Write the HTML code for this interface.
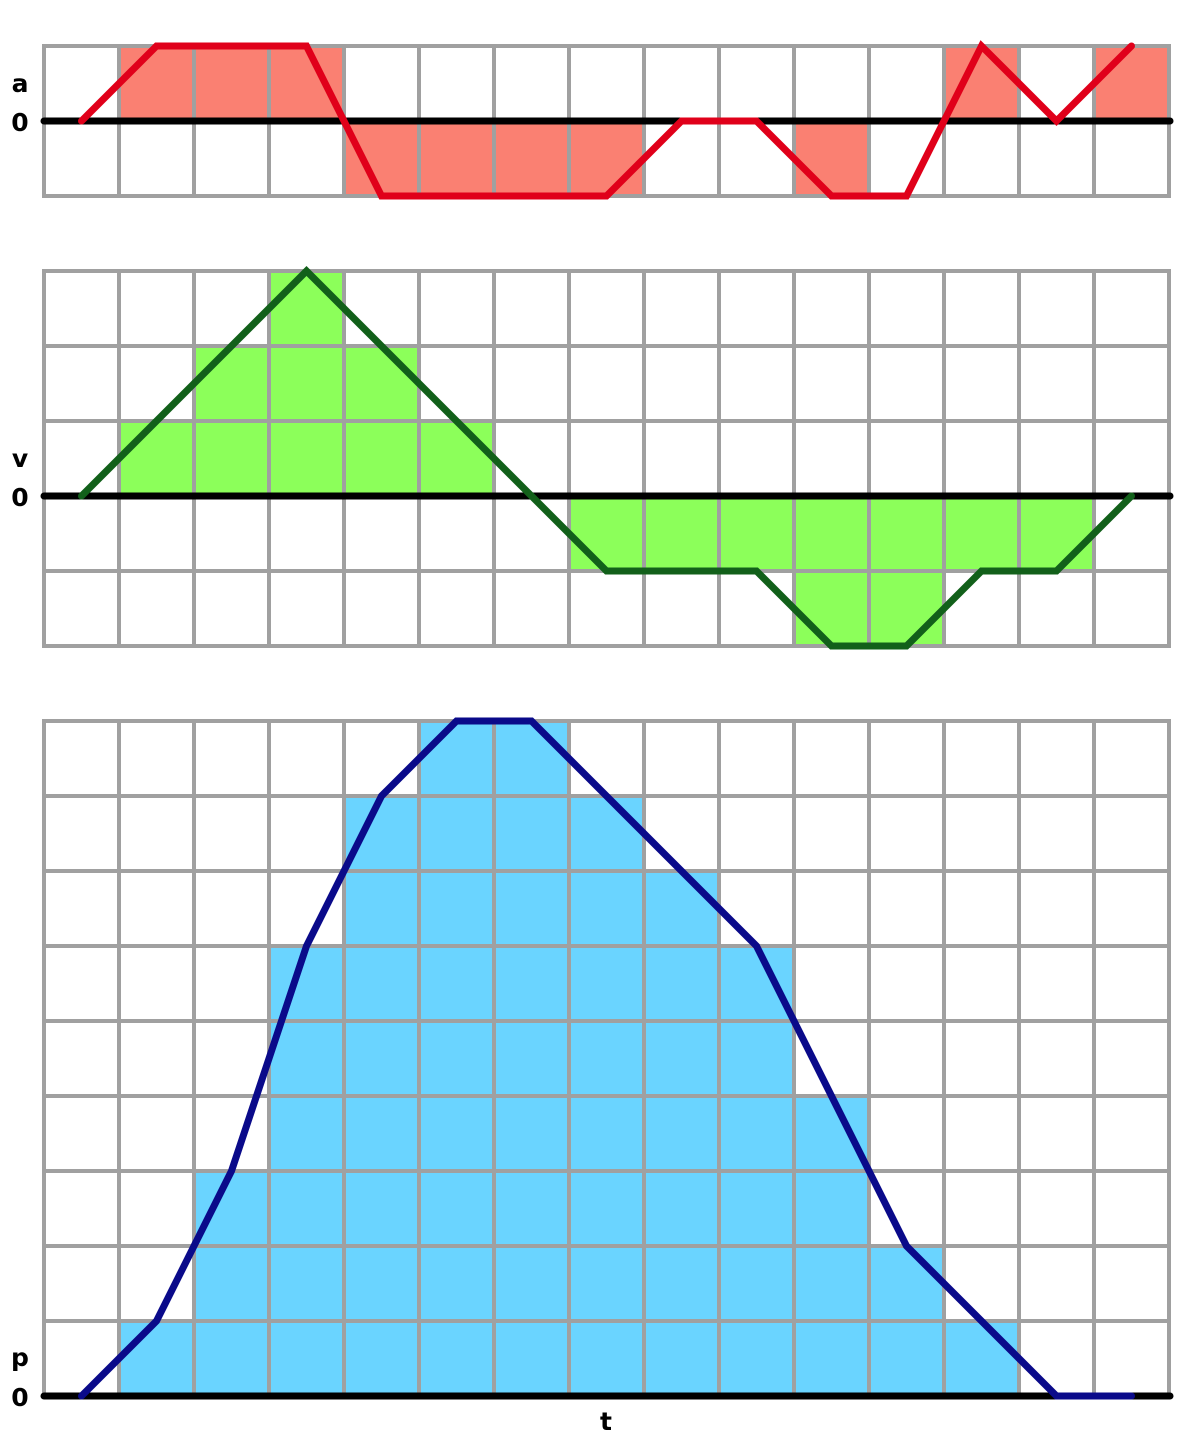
<!DOCTYPE html>
<html><head><meta charset="utf-8"><style>
html,body{margin:0;padding:0;background:#fff;}
svg{display:block;}
text{font-family:"DejaVu Sans","Liberation Sans",sans-serif;font-weight:bold;font-size:25px;fill:#000;}
</style></head><body>
<svg id="chart" width="1200" height="1440" viewBox="0 0 1200 1440" xmlns="http://www.w3.org/2000/svg"></svg>
<script>
const aLine=[0,1,1,1,-1,-1,-1,-1,0,0,-1,-1,1,0,1];
const aBars=[0,1,1,1,-1,-1,-1,-1,0,0,-1,0,1,0,1];
const vLine=[0,1,2,3,2,1,0,-1,-1,-1,-2,-2,-1,-1,0];
const vBars=[0,1,2,3,2,1,0,-1,-1,-1,-2,-2,-1,-1,0];
const pLine=[0,1,3,6,8,9,9,8,7,6,4,2,1,0,0];
const pBars=[0,1,3,6,8,9,9,8,7,6,4,2,1,0,0];

const svg=document.getElementById('chart');
const NS='http://www.w3.org/2000/svg';
const X0=44,CW=75,NC=15;
function xEdge(i){return X0+i*CW;}
function xMid(i){return X0+(i+0.5)*CW;}
function mk(tag,attrs,parent){const e=document.createElementNS(NS,tag);for(const k in attrs)e.setAttribute(k,attrs[k]);(parent||svg).appendChild(e);return e;}

const panels=[
 {name:'acceleration',top:46,rows:2,zeroRow:1,line:aLine,bars:aBars,fill:'#fa8072',stroke:'#e0001a',label:'a',ly:92},
 {name:'velocity',top:271,rows:5,zeroRow:3,line:vLine,bars:vBars,fill:'#8cff5a',stroke:'#12601a',label:'v',ly:467},
 {name:'position',top:721,rows:9,zeroRow:9,line:pLine,bars:pBars,fill:'#6ad4ff',stroke:'#0a0a8a',label:'p',ly:1366}
];
panels.forEach(P=>{
  const g=mk('g',{});
  
  
  const zeroY=P.top+P.zeroRow*CW;
  const y=v=>zeroY-v*CW;
  P.bars.forEach((v,i)=>{
    if(v===0)return;
    const r=mk('rect',{x:xEdge(i),y:Math.min(y(v),zeroY),width:CW,height:Math.abs(v)*CW,fill:P.fill},g);
    
    
  });
  const grid=mk('g',{stroke:'#a0a0a0','stroke-width':4,'stroke-linecap':'square'},g);
  
  
  for(let i=0;i<=NC;i++)mk('line',{x1:xEdge(i),x2:xEdge(i),y1:P.top,y2:P.top+P.rows*CW},grid);
  for(let j=0;j<=P.rows;j++)mk('line',{x1:X0,x2:xEdge(NC),y1:P.top+j*CW,y2:P.top+j*CW},grid);
  const z=mk('line',{x1:X0,x2:xEdge(NC)+1,y1:zeroY,y2:zeroY,stroke:'#000','stroke-width':7,'stroke-linecap':'round'},g);
  
  
  const pts=P.line.map((v,i)=>xMid(i)+','+y(v)).join(' ');
  const pl=mk('polyline',{points:pts,fill:'none',stroke:P.stroke,'stroke-width':7,'stroke-linejoin':'miter','stroke-linecap':'round'},g);
  
  
  const t=mk('text',{x:20,y:P.ly,'text-anchor':'middle'},g);t.textContent=P.label;
  
  
  const t0=mk('text',{x:20,y:zeroY+10,'text-anchor':'middle'},g);t0.textContent='0';
  
  
});
const tl=mk('text',{x:606,y:1430,'text-anchor':'middle'});tl.textContent='t';


</script>
</body></html>
